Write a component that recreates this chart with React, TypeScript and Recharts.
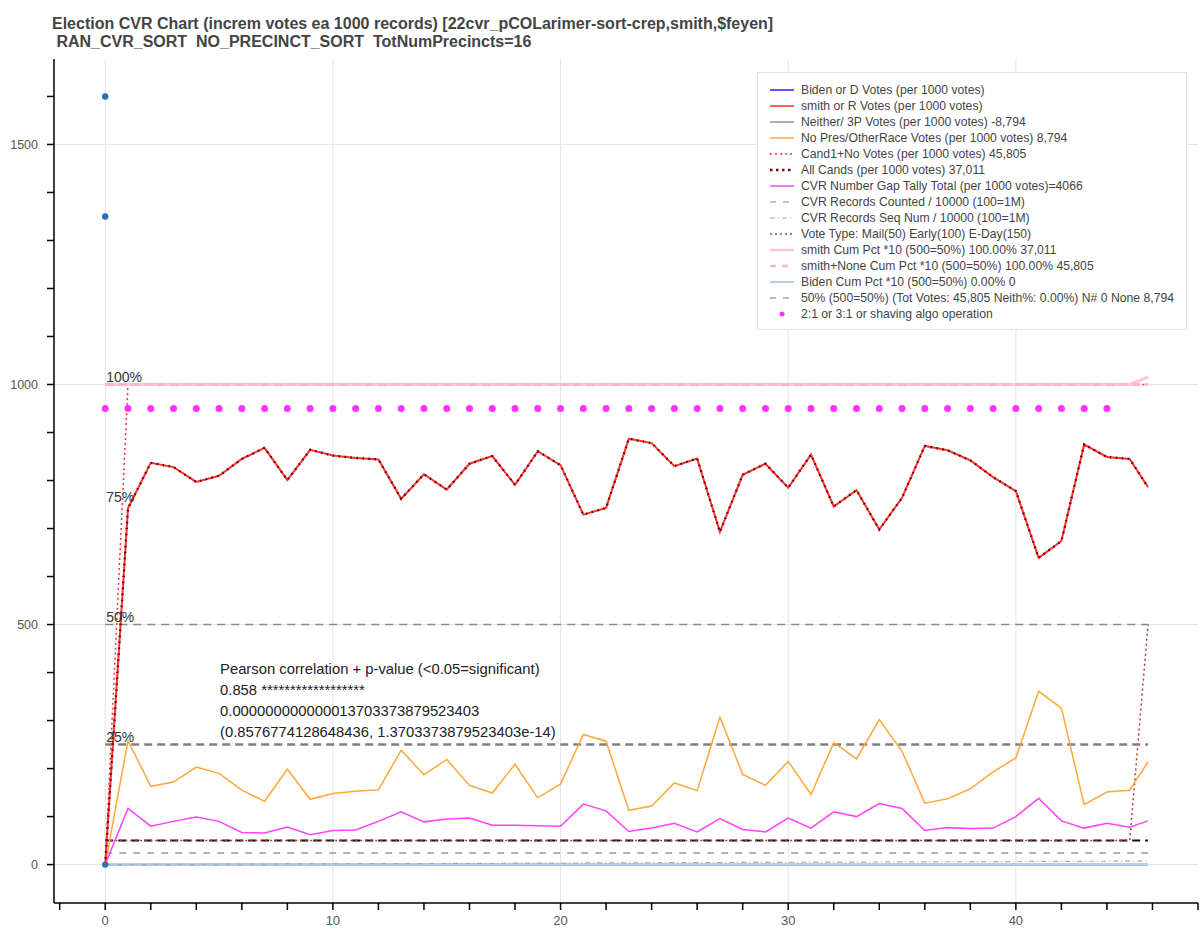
import React from "react";
import { ComposedChart, Line, Scatter, XAxis, YAxis, CartesianGrid, ReferenceLine } from "recharts";

// x = CVR records / 1000
const records = [
  0, 1, 2, 3, 4, 5, 6, 7, 8, 9, 10, 11, 12, 13, 14, 15, 16, 17, 18, 19, 20, 21, 22, 23, 24,
  25, 26, 27, 28, 29, 30, 31, 32, 33, 34, 35, 36, 37, 38, 39, 40, 41, 42, 43, 44, 45, 45.805,
];

const smithVotes = [
  0, 742, 837, 828, 797, 810, 845, 868, 801, 864, 852, 847, 844, 762, 813, 781, 835, 851, 791, 861,
  832, 729, 743, 887, 878, 830, 846, 693, 812, 835, 785, 854, 746, 780, 698, 764, 872, 863, 842, 807,
  778, 639, 674, 875, 849, 845, 786,
];

const noPresVotes = [
  0, 258, 163, 172, 203, 190, 155, 132, 199, 136, 148, 153, 156, 238, 187, 219, 165, 149, 209, 139,
  168, 271, 257, 113, 122, 170, 154, 307, 188, 165, 215, 146, 254, 220, 302, 236, 128, 137, 158, 193,
  222, 361, 326, 125, 151, 155, 214,
];

const gapTally = [
  0, 117, 80, 90, 99, 90, 67, 66, 78, 62, 71, 72, 90, 110, 89, 95, 97, 82, 82, 81,
  80, 126, 112, 69, 76, 86, 68, 96, 73, 68, 97, 76, 110, 100, 127, 117, 71, 77, 75, 76,
  100, 138, 91, 76, 86, 78, 91,
];

const cand1NoVotes = [
  0, 1000, 1000, 1000, 1000, 1000, 1000, 1000, 1000, 1000, 1000, 1000, 1000, 1000, 1000, 1000,
  1000, 1000, 1000, 1000, 1000, 1000, 1000, 1000, 1000, 1000, 1000, 1000, 1000, 1000, 1000, 1000,
  1000, 1000, 1000, 1000, 1000, 1000, 1000, 1000, 1000, 1000, 1000, 1000, 1000, 1000, 1000,
];

const smithCumPct = [
  1000, 1000, 1000, 1000, 1000, 1000, 1000, 1000, 1000, 1000, 1000, 1000, 1000, 1000, 1000, 1000,
  1000, 1000, 1000, 1000, 1000, 1000, 1000, 1000, 1000, 1000, 1000, 1000, 1000, 1000, 1000, 1000,
  1000, 1000, 1000, 1000, 1000, 1000, 1000, 1000, 1000, 1000, 1000, 1000, 1000, 1000, 1016,
];

const smithNoneCumPct = [
  1000, 1000, 1000, 1000, 1000, 1000, 1000, 1000, 1000, 1000, 1000, 1000, 1000, 1000, 1000, 1000,
  1000, 1000, 1000, 1000, 1000, 1000, 1000, 1000, 1000, 1000, 1000, 1000, 1000, 1000, 1000, 1000,
  1000, 1000, 1000, 1000, 1000, 1000, 1000, 1000, 1000, 1000, 1000, 1000, 1000, 1000, 1000,
];

const bidenVotes = [
  0, 0, 0, 0, 0, 0, 0, 0, 0, 0, 0, 0, 0, 0, 0, 0, 0, 0, 0, 0, 0, 0, 0, 0,
  0, 0, 0, 0, 0, 0, 0, 0, 0, 0, 0, 0, 0, 0, 0, 0, 0, 0, 0, 0, 0, 0, 0,
];

const neitherVotes = [
  0, 0, 0, 0, 0, 0, 0, 0, 0, 0, 0, 0, 0, 0, 0, 0, 0, 0, 0, 0, 0, 0, 0, 0,
  0, 0, 0, 0, 0, 0, 0, 0, 0, 0, 0, 0, 0, 0, 0, 0, 0, 0, 0, 0, 0, 0, 0,
];

const bidenCumPct = [
  0, 0, 0, 0, 0, 0, 0, 0, 0, 0, 0, 0, 0, 0, 0, 0, 0, 0, 0, 0, 0, 0, 0, 0,
  0, 0, 0, 0, 0, 0, 0, 0, 0, 0, 0, 0, 0, 0, 0, 0, 0, 0, 0, 0, 0, 0, 0,
];

const voteTypeLevel = [
  50, 50, 50, 50, 50, 50, 50, 50, 50, 50, 50, 50, 50, 50, 50, 50, 50, 50, 50, 50, 50, 50, 50, 50,
  50, 50, 50, 50, 50, 50, 50, 50, 50, 50, 50, 50, 50, 50, 50, 50, 50, 50, 50, 50, 50, 50, 500,
];

const seqNumScaled = [
  0, 0.2, 0.3, 0.5, 0.6, 0.8, 1, 1.1, 1.3, 1.4, 1.6, 1.8, 1.9, 2.1, 2.2, 2.4, 2.6, 2.7, 2.9, 3,
  3.2, 3.4, 3.5, 3.7, 3.8, 4, 4.2, 4.3, 4.5, 4.6, 4.8, 5, 5.1, 5.3, 5.4, 5.6, 5.8, 5.9, 6.1, 6.2,
  6.4, 6.6, 6.7, 6.9, 7, 7.2, 7.3,
];

const countedLevel = 24;
const mailLevel = 50;
const quarterLevel = 250;
const halfLevel = 500;

const bidenDotY = [1600, 1350, 0];
const algoLevel = 950;
const algoCount = 45;

const pctLabels = ["100%", "75%", "50%", "25%"];
const pctLevels = [1000, 750, 500, 250];

const pearsonLines = [
  "Pearson correlation + p-value (<0.05=significant)",
  "0.858 ******************",
  "0.000000000000013703373879523403",
  "(0.8576774128648436, 1.3703373879523403e-14)",
];
const pearsonAt = { x: 5, y: 398 };

const xTicks = [-2, 0, 2, 4, 6, 8, 10, 12, 14, 16, 18, 20, 22, 24, 26, 28, 30, 32, 34, 36, 38, 40, 42, 44, 46, 48];
const yTicks = [0, 100, 200, 300, 400, 500, 600, 700, 800, 900, 1000, 1100, 1200, 1300, 1400, 1500, 1600];

const titleLines = [
  "Election CVR Chart (increm votes ea 1000 records) [22cvr_pCOLarimer-sort-crep,smith,$feyen]",
  " RAN_CVR_SORT  NO_PRECINCT_SORT  TotNumPrecincts=16",
];

const legendItems = [
  { label: "Biden or D Votes (per 1000 votes)", color: "#2222ff", w: 1.5, dash: "" },
  { label: "smith or R Votes (per 1000 votes)", color: "#ff3030", w: 1.5, dash: "" },
  { label: "Neither/ 3P Votes (per 1000 votes) -8,794", color: "#777777", w: 1.2, dash: "" },
  { label: "No Pres/OtherRace Votes (per 1000 votes) 8,794", color: "#ffa838", w: 1.5, dash: "" },
  { label: "Cand1+No Votes (per 1000 votes) 45,805", color: "#ff3030", w: 1.5, dash: "2 3" },
  { label: "All Cands (per 1000 votes) 37,011", color: "#7a0000", w: 2.5, dash: "2.5 3.5" },
  { label: "CVR Number Gap Tally Total (per 1000 votes)=4066", color: "#ff40ff", w: 1.5, dash: "" },
  { label: "CVR Records Counted / 10000 (100=1M)", color: "#888888", w: 1.2, dash: "6 7" },
  { label: "CVR Records Seq Num / 10000 (100=1M)", color: "#aaaaaa", w: 1.2, dash: "5 3 1 3" },
  { label: "Vote Type: Mail(50) Early(100) E-Day(150)", color: "#b03a3a", w: 1.5, dash: "2 3" },
  { label: "smith Cum Pct *10 (500=50%) 100.00% 37,011", color: "#ffc9d0", w: 2.5, dash: "" },
  { label: "smith+None Cum Pct *10 (500=50%) 100.00% 45,805", color: "#ffb8c3", w: 2.5, dash: "6 6" },
  { label: "Biden Cum Pct *10 (500=50%) 0.00% 0", color: "#b3d0ea", w: 2, dash: "" },
  { label: "50% (500=50%) (Tot Votes: 45,805 Neith%: 0.00%) N# 0 None 8,794", color: "#777777", w: 1.2, dash: "6 7" },
  { label: "2:1 or 3:1 or shaving algo operation", color: "#ff33ff", w: 0, dash: "" },
];

const font = "'Liberation Sans', Arial, sans-serif";

const data = records.map((x, i) => ({
  x,
  biden: bidenVotes[i],
  smith: smithVotes[i],
  neither: neitherVotes[i],
  noPres: noPresVotes[i],
  cand1No: cand1NoVotes[i],
  gap: gapTally[i],
  seq: seqNumScaled[i],
  voteType: voteTypeLevel[i],
  smithCum: smithCumPct[i],
  smithNoneCum: smithNoneCumPct[i],
  bidenCum: bidenCumPct[i],
}));

const lastX = records[records.length - 1];
const bidenDots = bidenDotY.map((y) => ({ x: 0, y }));
const algoDots = records.slice(0, algoCount).map((x) => ({ x, y: algoLevel }));
const pctMarks = pctLevels.map((y, i) => ({ x: 0, y, label: pctLabels[i] }));

const PctLabel = (props: any) => (
  <text x={props.cx + 1} y={props.cy - 3} fontSize={14} fill="#333" fontFamily={font}>
    {props.payload.label}
  </text>
);

const PearsonText = (props: any) => (
  <text x={props.cx + 1} y={props.cy} fontSize={14.8} fill="#222" fontFamily={font}>
    {pearsonLines.map((l, i) => (
      <tspan key={i} x={props.cx + 1} dy={i === 0 ? 0 : 21.2}>
        {l}
      </tspan>
    ))}
  </text>
);

function LegendBox() {
  return (
    <div
      style={{
        position: "absolute",
        left: 757,
        top: 72,
        width: 430,
        height: 258,
        background: "#fff",
        border: "1px solid #e3e3e3",
        boxSizing: "border-box",
        paddingTop: 9,
        fontFamily: font,
        fontSize: 12.2,
        color: "#444",
      }}
    >
      {legendItems.map((it) => (
        <div key={it.label} style={{ display: "flex", alignItems: "center", height: 16 }}>
          <svg width={26} height={16} style={{ marginLeft: 11, marginRight: 6, flex: "none" }}>
            {it.w > 0 ? (
              <line x1={1} y1={8} x2={25} y2={8} stroke={it.color} strokeWidth={it.w} strokeDasharray={it.dash || undefined} />
            ) : (
              <circle cx={13} cy={8} r={2.5} fill={it.color} />
            )}
          </svg>
          <span style={{ whiteSpace: "nowrap" }}>{it.label}</span>
        </div>
      ))}
    </div>
  );
}

export default function App() {
  return (
    <div style={{ position: "absolute", left: 0, top: 0, width: 1200, height: 934, background: "#fff", overflow: "hidden" }}>
      <div
        style={{
          position: "absolute",
          left: 52,
          top: 15,
          fontFamily: font,
          fontWeight: "bold",
          fontSize: 16,
          lineHeight: "18px",
          color: "#444",
          whiteSpace: "pre",
        }}
      >
        {titleLines.map((t) => (
          <div key={t}>{t}</div>
        ))}
      </div>
      <div style={{ position: "absolute", left: 0, top: 0 }}>
        <ComposedChart width={1200} height={934} data={data} margin={{ top: 59, right: 2, bottom: 0, left: 0 }}>
          <CartesianGrid stroke="#e4e4e4" horizontalValues={[0, 500, 1000, 1500]} verticalValues={[0, 10, 20, 30, 40]} />
          <XAxis
            type="number"
            dataKey="x"
            domain={[-2.25, 48]}
            allowDataOverflow
            ticks={xTicks}
            interval={0}
            height={31}
            tickSize={7}
            tickMargin={6}
            stroke="#000"
            strokeWidth={1.5}
            tick={{ fill: "#555", fontSize: 13, fontFamily: font }}
            tickFormatter={(v: number) => (v % 10 === 0 ? String(v) : "")}
          />
          <YAxis
            type="number"
            domain={[-80, 1678]}
            allowDataOverflow
            ticks={yTicks}
            interval={0}
            width={54}
            tickSize={7}
            tickMargin={9}
            stroke="#000"
            strokeWidth={1.5}
            tick={{ fill: "#555", fontSize: 12.5, fontFamily: font }}
            tickFormatter={(v: number) => (v % 500 === 0 ? String(v) : "")}
          />
          <Line dataKey="biden" stroke="#2222ff" strokeWidth={1.5} dot={false} activeDot={false} isAnimationActive={false} />
          <Line dataKey="neither" stroke="#777" strokeWidth={1.2} dot={false} activeDot={false} isAnimationActive={false} />
          <Line dataKey="bidenCum" stroke="#b3d0ea" strokeWidth={2} dot={false} activeDot={false} isAnimationActive={false} />
          <Line dataKey="seq" stroke="#aaa" strokeWidth={1.2} strokeDasharray="5 3 1 3" dot={false} activeDot={false} isAnimationActive={false} />
          <ReferenceLine segment={[{ x: 0, y: countedLevel }, { x: lastX, y: countedLevel }]} stroke="#999" strokeWidth={1.4} strokeDasharray="7 7" />
          <ReferenceLine segment={[{ x: 0, y: mailLevel }, { x: lastX, y: mailLevel }]} stroke="#111" strokeWidth={2} strokeDasharray="8 5" />
          <Line dataKey="voteType" stroke="#b03a3a" strokeWidth={1.5} strokeDasharray="2 3" dot={false} activeDot={false} isAnimationActive={false} />
          <ReferenceLine segment={[{ x: 0, y: quarterLevel }, { x: lastX, y: quarterLevel }]} stroke="#808080" strokeWidth={2.5} strokeDasharray="8 5" />
          <ReferenceLine segment={[{ x: 0, y: halfLevel }, { x: lastX, y: halfLevel }]} stroke="#8a8a8a" strokeWidth={1.5} strokeDasharray="8 6" />
          <Line dataKey="noPres" stroke="#ffa838" strokeWidth={1.5} dot={false} activeDot={false} isAnimationActive={false} />
          <Line dataKey="gap" stroke="#ff40ff" strokeWidth={1.5} dot={false} activeDot={false} isAnimationActive={false} />
          <Line dataKey="cand1No" stroke="#ff3030" strokeWidth={1.5} strokeDasharray="2 3" dot={false} activeDot={false} isAnimationActive={false} />
          <Line dataKey="smithCum" stroke="#ffc9d0" strokeWidth={3} dot={false} activeDot={false} isAnimationActive={false} />
          <Line dataKey="smithNoneCum" stroke="#ffb8c3" strokeWidth={3} strokeDasharray="8 5" dot={false} activeDot={false} isAnimationActive={false} />
          <Line dataKey="smith" stroke="#ff3030" strokeWidth={2} dot={false} activeDot={false} isAnimationActive={false} />
          <Line dataKey="smith" stroke="#5a0000" strokeWidth={2.3} strokeDasharray="1.5 4.5" dot={false} activeDot={false} isAnimationActive={false} />
          <Scatter data={algoDots} dataKey="y" fill="#ff33ff" shape={(p: any) => <circle cx={p.cx} cy={p.cy} r={3.5} fill="#ff33ff" />} isAnimationActive={false} />
          <Scatter data={bidenDots} dataKey="y" fill="#2f6db5" shape={(p: any) => <circle cx={p.cx} cy={p.cy} r={3.2} fill="#2f6db5" />} isAnimationActive={false} />
          <Scatter data={pctMarks} dataKey="y" shape={PctLabel} isAnimationActive={false} />
          <Scatter data={[pearsonAt]} dataKey="y" shape={PearsonText} isAnimationActive={false} />
        </ComposedChart>
      </div>
      <LegendBox />
    </div>
  );
}
